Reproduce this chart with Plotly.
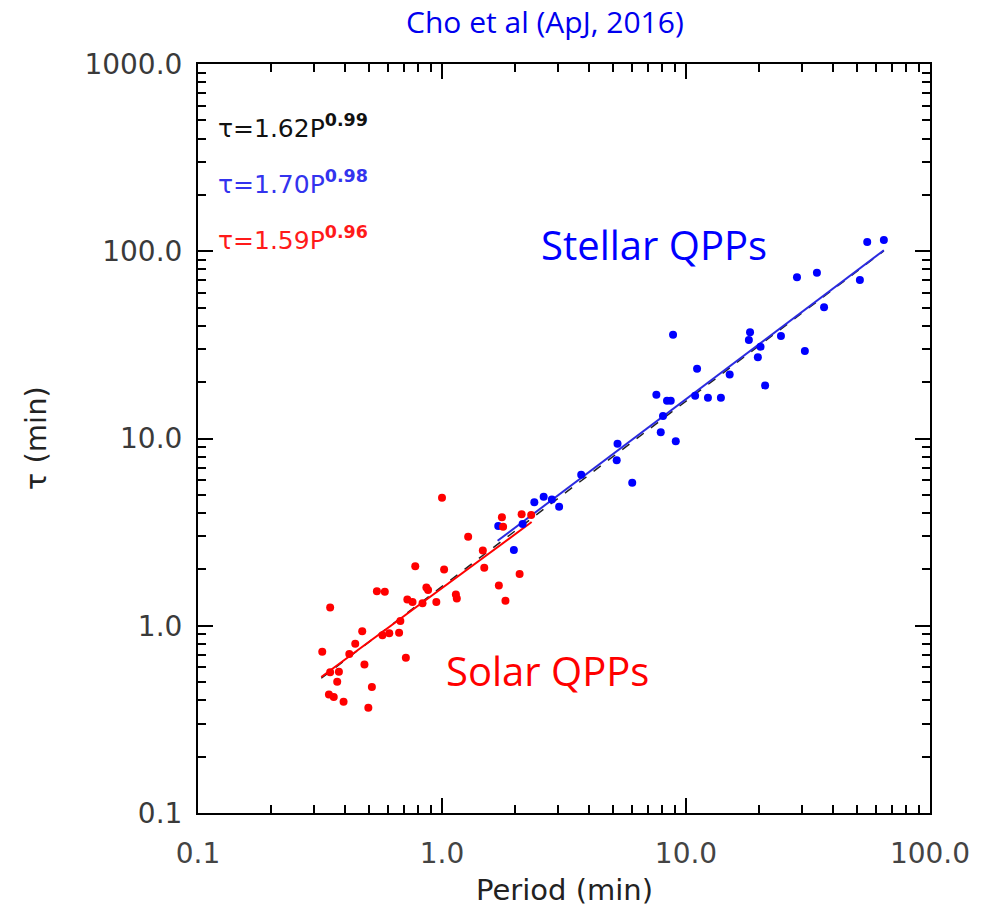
import plotly.graph_objects as go

# ---------------- data ----------------
solar_period = [1.00, 1.76, 1.78, 2.12, 2.32, 1.28, 1.47, 0.777, 1.02, 1.49, 2.08,
                0.541, 0.583, 0.863, 0.877, 1.71, 0.721, 0.757, 0.832, 0.948, 1.14,
                1.15, 1.82, 0.348, 0.675, 0.471, 0.570, 0.608, 0.667, 0.441, 0.417,
                0.323, 0.711, 0.481, 0.348, 0.378, 0.372, 0.516, 0.344, 0.360, 0.395,
                0.499]
solar_tau = [4.83, 3.80, 3.38, 3.94, 3.90, 2.99, 2.52, 2.08, 2.00, 2.04, 1.89,
             1.53, 1.52, 1.60, 1.55, 1.64, 1.38, 1.34, 1.32, 1.34, 1.47,
             1.40, 1.36, 1.25, 1.06, 0.934, 0.889, 0.911, 0.918, 0.802, 0.707,
             0.727, 0.675, 0.620, 0.564, 0.568, 0.503, 0.471, 0.430, 0.416, 0.393,
             0.365]

stellar_period = [64.7, 55.3, 34.4, 28.5, 51.6, 36.8, 8.85, 18.3, 18.1, 24.5, 20.2,
                  30.7, 19.7, 11.1, 15.1, 21.1, 7.56, 8.36, 8.66, 10.9, 12.3, 13.9,
                  8.05, 7.88, 9.08, 5.24, 5.20, 3.72, 6.02, 2.61, 2.39, 2.82, 3.02,
                  1.70, 2.14, 1.97]
stellar_tau = [114.8, 112.0, 76.8, 72.6, 70.2, 50.2, 35.8, 36.9, 33.6, 35.3, 30.9,
               29.3, 27.2, 23.6, 22.0, 19.2, 17.1, 15.9, 15.9, 16.9, 16.5, 16.5,
               13.2, 10.8, 9.66, 9.38, 7.65, 6.41, 5.81, 4.89, 4.56, 4.73, 4.32,
               3.41, 3.49, 2.54]

# power-law fits tau = a * P^b, as printed on the chart, with their period ranges
fit_all = (1.62, 0.99, [0.32, 64.7])
fit_stellar = (1.70, 0.98, [1.69, 64.7])
fit_solar = (1.59, 0.96, [0.32, 2.33])

x_ticks = [0.1, 1, 10, 100]
x_ticklabels = ["0.1", "1.0", "10.0", "100.0"]
y_ticks = [0.1, 1, 10, 100, 1000]
y_ticklabels = ["0.1", "1.0", "10.0", "100.0", "1000.0"]


def minor_vals(lo_exp, hi_exp):
    vals = []
    for e in range(lo_exp, hi_exp):
        for m in range(2, 10):
            vals.append(m * 10 ** e)
    return vals


def fit_line(fit):
    a, b, prng = fit
    return prng, [a * p ** b for p in prng]


fig = go.Figure()

for fit, col, dash, w in [(fit_all, "#222222", "dash", 1.5),
                          (fit_solar, "#ff0000", "solid", 2),
                          (fit_stellar, "#2a2ae0", "solid", 2)]:
    xs, ys = fit_line(fit)
    fig.add_trace(go.Scatter(x=xs, y=ys, mode="lines",
                             line=dict(color=col, width=w, dash=dash),
                             showlegend=False, hoverinfo="skip"))

fig.add_trace(go.Scatter(x=stellar_period, y=stellar_tau, mode="markers",
                         marker=dict(color="#0000ff", size=8), showlegend=False))
fig.add_trace(go.Scatter(x=solar_period, y=solar_tau, mode="markers",
                         marker=dict(color="#ff0000", size=8), showlegend=False))

x_tick_font = dict(family="DejaVu Sans", size=28, color="#444444")
y_tick_font = dict(family="DejaVu Sans", size=28, color="#3a3a3a")

fig.update_xaxes(type="log", range=[-1, 2],
                 tickmode="array", tickvals=x_ticks, ticktext=x_ticklabels,
                 ticks="inside", ticklen=15, tickwidth=2, tickcolor="black",
                 showline=True, linecolor="black", linewidth=2, mirror="ticks",
                 showgrid=False, zeroline=False, tickfont=x_tick_font,
                 ticklabelstandoff=14,
                 minor=dict(tickmode="array", tickvals=minor_vals(-1, 2),
                            ticks="inside", ticklen=8, tickwidth=2,
                            tickcolor="black", showgrid=False))
fig.update_yaxes(type="log", range=[-1, 3],
                 tickmode="array", tickvals=y_ticks, ticktext=y_ticklabels,
                 ticks="inside", ticklen=15, tickwidth=2, tickcolor="black",
                 showline=True, linecolor="black", linewidth=2, mirror="ticks",
                 showgrid=False, zeroline=False, tickfont=y_tick_font,
                 ticklabelstandoff=8,
                 minor=dict(tickmode="array", tickvals=minor_vals(-1, 3),
                            ticks="inside", ticklen=8, tickwidth=2,
                            tickcolor="black", showgrid=False))

annotations = [
    dict(text="Cho et al (ApJ, 2016)", xref="paper", yref="paper",
         x=(546 - 198) / 735, y=(813 - 22) / 749, showarrow=False,
         font=dict(family="Open Sans", size=30, color="#0000ee"),
         xanchor="center", yanchor="middle"),
    dict(text="Period (min)", xref="paper", yref="paper",
         x=0.5, y=(813 - 890) / 749, showarrow=False,
         font=dict(family="DejaVu Sans", size=29, color="#222222"),
         xanchor="center", yanchor="middle"),
    dict(text="τ (min)", xref="paper", yref="paper", textangle=-90,
         x=(35 - 198) / 735, y=0.5, showarrow=False,
         font=dict(family="DejaVu Sans", size=29, color="#222222"),
         xanchor="center", yanchor="middle"),
    dict(text="Stellar QPPs", xref="paper", yref="paper",
         x=(540 - 198) / 735, y=(813 - 244) / 749, showarrow=False,
         font=dict(family="Open Sans", size=40, color="#0000ff"),
         xanchor="left", yanchor="middle"),
    dict(text="Solar QPPs", xref="paper", yref="paper",
         x=(445 - 198) / 735, y=(813 - 670) / 749, showarrow=False,
         font=dict(family="Open Sans", size=40, color="#ff0000"),
         xanchor="left", yanchor="middle"),
]

eq_rows = [(fit_all, "#111111", 126), (fit_stellar, "#3333ee", 182), (fit_solar, "#ff1a1a", 238)]
for fit, col, ypix in eq_rows:
    a, b, _ = fit
    annotations.append(dict(
        text=f"τ={a:.2f}P<sup><b>{b:.2f}</b></sup>", xref="paper", yref="paper",
        x=(216 - 198) / 735, y=(813 - ypix) / 749, showarrow=False,
        font=dict(family="DejaVu Sans", size=25, color=col),
        xanchor="left", yanchor="middle"))

fig.update_layout(width=982, height=912,
                  margin=dict(l=198, r=49, t=64, b=99),
                  paper_bgcolor="white", plot_bgcolor="white",
                  annotations=annotations, showlegend=False)

fig.write_html("out.html")
